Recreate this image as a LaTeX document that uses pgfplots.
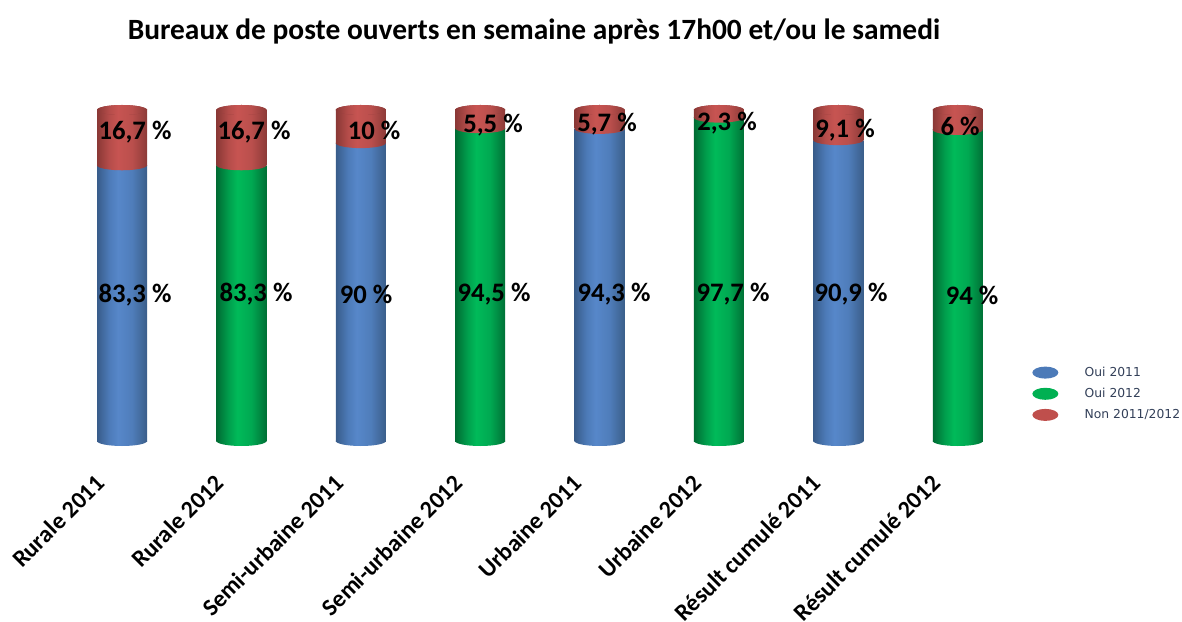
\documentclass[border=0pt]{standalone}
\usepackage{fontspec}
\setmainfont{Carlito}
\newfontfamily\legfont{DejaVu Sans}
\usepackage{pgfplots}
\pgfplotsset{compat=1.18}

% side shading of the cylinders (edges of the path sit at 25bp and 75bp)
\pgfdeclarehorizontalshading{cylblue}{100bp}{
  rgb(0bp)=(.22,.36,.54); rgb(25bp)=(.22,.36,.54); rgb(37bp)=(.30,.48,.72); rgb(46bp)=(.34,.53,.79); rgb(60bp)=(.31,.49,.73); rgb(75bp)=(.23,.37,.54); rgb(100bp)=(.23,.37,.54)}
\pgfdeclarehorizontalshading{cylgreen}{100bp}{
  rgb(0bp)=(0,.42,.20); rgb(25bp)=(0,.42,.20); rgb(37bp)=(0,.62,.30); rgb(46bp)=(0,.73,.35); rgb(60bp)=(0,.66,.32); rgb(75bp)=(0,.44,.21); rgb(100bp)=(0,.44,.21)}
\pgfdeclarehorizontalshading{cylred}{100bp}{
  rgb(0bp)=(.54,.22,.21); rgb(25bp)=(.54,.22,.21); rgb(37bp)=(.71,.30,.29); rgb(46bp)=(.78,.33,.32); rgb(60bp)=(.73,.31,.30); rgb(75bp)=(.55,.23,.22); rgb(100bp)=(.55,.23,.22)}

\pgfdeclareplotmark{capblue}{\shade[draw=none,shading=cylblue,rotate=5] (0pt,0pt) ellipse (15pt and 3pt);}
\pgfdeclareplotmark{capgreen}{\shade[draw=none,shading=cylgreen,rotate=5] (0pt,0pt) ellipse (15pt and 3pt);}
\pgfdeclareplotmark{capred}{\shade[draw=none,shading=cylred,rotate=5] (0pt,0pt) ellipse (15pt and 3pt);}
\pgfdeclareplotmark{captop}{\fill[draw=none,fill={rgb,1:red,.60;green,.25;blue,.25},rotate=5] (0pt,0pt) ellipse (15pt and 3pt);}

\pgfplotsset{
  cyl/.style={
    at={(0,108pt)}, anchor=south west,
    scale only axis, width=709.2pt, height=264.6pt,
    xmin=-1.0218, xmax=8.878, ymin=0, ymax=133.23,
    stack plots=y, clip=false,
    axis line style={draw=none},
    major tick length=0pt, ytick=\empty,
  },
  bar/.style={ybar, bar width=30pt, bar shift=0pt, draw=none, forget plot},
  caps/.style={only marks, mark=#1, forget plot},
}
% one axis per column, so that each bar gets its own shading
% x, oui, non, shading name, cap name
\newcommand{\cyl}[5]{
\begin{axis}[cyl,xtick=\empty]
  \addplot[caps=#5] coordinates {(#1,0)};
  \addplot[bar,shade,shading=#4] coordinates {(#1,#2)};
  \addplot[caps=capred] coordinates {(#1,0)};
  \addplot[bar,shade,shading=cylred,mark=captop] coordinates {(#1,#3)};
\end{axis}
}
\newcommand{\px}[2]{({#1*0.6pt},{(621-#2)*0.6pt})}
\newcommand{\lab}[3]{\node[font=\bfseries\fontsize{16}{18}\selectfont,anchor=center] at \px{#1}{#2} {#3};}
\newcommand{\legimg}[3]{\addlegendimage{legend image code/.code={
  \fill[draw=none,fill={rgb,1:red,#1;green,#2;blue,#3}] (7.8pt,0pt) ellipse (7.8pt and 3.6pt);
  \path[draw=none] (0pt,0pt) -- (29.4pt,0pt);}}}

\begin{document}
\begin{tikzpicture}
\useasboundingbox (0,0) rectangle (709.2pt,372.6pt);
\begin{axis}[cyl,
    xtick={0,...,7},
    xticklabels={Rurale 2011,Rurale 2012,Semi-urbaine 2011,Semi-urbaine 2012,Urbaine 2011,Urbaine 2012,Résult cumulé 2011,Résult cumulé 2012},
    xticklabel style={font=\bfseries\fontsize{14.4}{17}\selectfont,rotate=45,anchor=north east,xshift=-22pt,yshift=1.8pt},
    legend cell align=left,
    legend style={at={(1032*0.6pt,{(441-363)*0.6pt})},anchor=north west,draw=none,fill=none,
      font=\legfont\fontsize{7.4}{8}\selectfont,text={rgb,1:red,.2;green,.25;blue,.35},row sep=1.6pt,inner sep=0pt},
  ]
  \legimg{.30}{.48}{.72}
  \addlegendentry{Oui 2011}
  \legimg{0}{.69}{.32}
  \addlegendentry{Oui 2012}
  \legimg{.75}{.31}{.30}
  \addlegendentry{Non 2011/2012}
\end{axis}
\cyl{0}{83.3}{16.7}{cylblue}{capblue}
\cyl{1}{83.3}{16.7}{cylgreen}{capgreen}
\cyl{2}{90.0}{10.0}{cylblue}{capblue}
\cyl{3}{94.5}{5.5}{cylgreen}{capgreen}
\cyl{4}{94.3}{5.7}{cylblue}{capblue}
\cyl{5}{97.7}{2.3}{cylgreen}{capgreen}
\cyl{6}{90.9}{9.1}{cylblue}{capblue}
\cyl{7}{94.0}{6.0}{cylgreen}{capgreen}
\node[font=\bfseries\fontsize{17.65}{20}\selectfont,anchor=center] at \px{534}{32} {Bureaux de poste ouverts en semaine après 17h00 et/ou le samedi};
\lab{135}{295}{83,3 \%}\lab{256}{294}{83,3 \%}\lab{366}{294}{90 \%}\lab{494}{294}{94,5 \%}
\lab{614}{294}{94,3 \%}\lab{733}{294}{97,7 \%}\lab{851}{294}{90,9 \%}\lab{972}{295}{94 \%}
\lab{135}{132}{16,7 \%}\lab{254}{132}{16,7 \%}\lab{374}{130}{10 \%}\lab{493}{125}{5,5 \%}
\lab{607}{124}{5,7 \%}\lab{727}{123}{2,3 \%}\lab{845}{130}{9,1 \%}\lab{960}{126}{6 \%}
\end{tikzpicture}
\end{document}
